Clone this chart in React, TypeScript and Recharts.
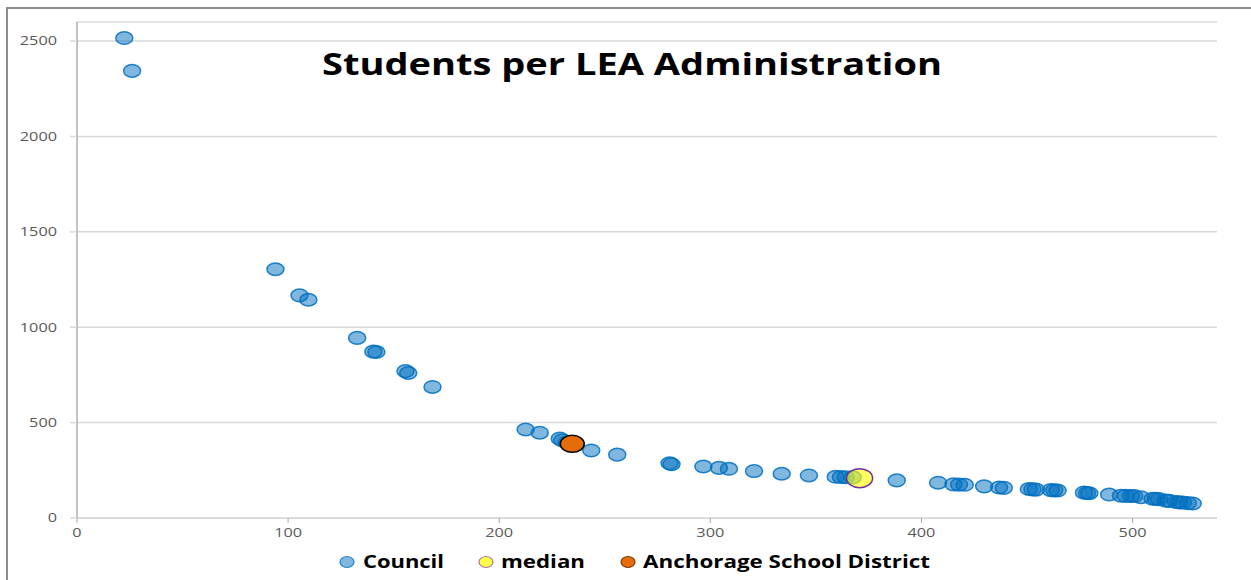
import React from 'react';
import { ScatterChart, Scatter, XAxis, YAxis, CartesianGrid, Legend } from 'recharts';

const councilX = [
  22.4, 26.1, 94.0, 105.4, 109.6, 132.7, 140.4, 141.8, 155.6, 156.9, 168.4,
  212.5, 219.2, 228.7, 229.9, 232.0, 243.6, 255.9, 280.7, 281.6, 296.7, 304.1,
  308.8, 320.7, 333.8, 346.7, 359.4, 361.8, 364.1, 367.4, 388.3, 407.9, 415.2,
  417.8, 420.5, 429.7, 436.8, 439.0, 450.9, 452.6, 454.2, 461.3, 462.9, 464.5,
  477.0, 478.4, 479.5, 488.9, 494.5, 496.8, 499.2, 500.8, 504.0, 509.5, 511.1,
  512.5, 515.8, 517.4, 520.6, 522.0, 523.8, 526.2, 528.5,
];
const councilY = [
  2516, 2344, 1304, 1167, 1144, 944, 872, 870, 770, 760, 687,
  464, 447, 416, 407, 396, 354, 332, 287, 282, 270, 263,
  258, 246, 232, 223, 216, 215, 214, 213, 197, 185, 176,
  175, 174, 166, 160, 158, 152, 150, 149, 146, 145, 144,
  133, 131, 130, 123, 117, 116, 115, 115, 109, 101, 100,
  99, 91, 90, 84, 82, 81, 78, 76,
];
const medianPoint = [{ x: 370.7, y: 209 }];
const anchoragePoint = [{ x: 234.6, y: 389 }];

const xTicks = [0, 100, 200, 300, 400, 500];
const yTicks = [0, 500, 1000, 1500, 2000, 2500];

const councilData = councilX.map((x, i) => ({ x, y: councilY[i] }));

const FONT = '"Open Sans", "DejaVu Sans", sans-serif';

const councilShape = (props: any) => (
  <ellipse cx={props.cx} cy={props.cy} rx={8.5} ry={6.3}
    fill="rgba(0,112,192,0.5)" stroke="rgba(0,112,192,0.85)" strokeWidth={1.5} />
);
const medianShape = (props: any) => (
  <ellipse cx={props.cx} cy={props.cy} rx={13} ry={9.5}
    fill="rgba(255,255,0,0.62)" stroke="#7030A0" strokeWidth={1.5} />
);
const anchorageShape = (props: any) => (
  <ellipse cx={props.cx} cy={props.cy} rx={12} ry={8.5}
    fill="#E46C0A" stroke="#000" strokeWidth={1.5} />
);

const AxisTick = (props: any) => {
  const { x, y, payload, textAnchor, isY } = props;
  const label = String(payload.value);
  return (
    <text x={x} y={y} dy={isY ? '0.35em' : '0.71em'} textAnchor={textAnchor}
      fontFamily={FONT} fontSize={12.5} fill="#595959"
      textLength={label.length * 9.3} lengthAdjust="spacingAndGlyphs">
      {label}
    </text>
  );
};

const legendItems = [
  { name: 'Council', mx: 347, tx: 363, w: 81, fill: 'rgba(0,112,192,0.5)', stroke: 'rgba(0,112,192,0.85)' },
  { name: 'median', mx: 486, tx: 501, w: 84, fill: 'rgba(255,255,0,0.72)', stroke: '#B070B0' },
  { name: 'Anchorage School District', mx: 628, tx: 643, w: 287, fill: '#E46C0A', stroke: '#7a3a05' },
];

const ChartLegend = () => (
  <svg width={1251} height={30} style={{ display: 'block' }}>
    {legendItems.map((it) => (
      <g key={it.name}>
        <ellipse cx={it.mx} cy={14} rx={7} ry={5.5} fill={it.fill} stroke={it.stroke} strokeWidth={1.2} />
        <text x={it.tx} y={20} fontFamily={FONT} fontWeight="bold" fontSize={18} fill="#000"
          textLength={it.w} lengthAdjust="spacingAndGlyphs">
          {it.name}
        </text>
      </g>
    ))}
  </svg>
);

export default function App() {
  return (
    <div style={{ position: 'absolute', left: 0, top: 0, width: 1251, height: 580, background: '#fff', overflow: 'hidden' }}>
      <div style={{
        position: 'absolute', left: 6, top: 7, width: 1251, height: 580,
        borderLeft: '2px solid #8c8c8c', borderTop: '2px solid #8c8c8c', boxSizing: 'border-box',
      }} />
      <ScatterChart width={1251} height={580} margin={{ top: 22, right: 34, bottom: 0, left: 0 }}>
        <CartesianGrid horizontal vertical={false} stroke="#d9d9d9" strokeWidth={1.5} />
        <XAxis type="number" dataKey="x" domain={[0, 540]} ticks={xTicks} height={62}
          axisLine={{ stroke: '#d9d9d9', strokeWidth: 1.5 }} tickLine={{ stroke: '#a6a6a6' }}
          tickSize={5} tickMargin={5} tick={<AxisTick />} />
        <YAxis type="number" dataKey="y" domain={[0, 2600]} ticks={yTicks} width={77}
          axisLine={{ stroke: '#868686' }} tickLine={{ stroke: '#d9d9d9', strokeWidth: 1.5 }}
          tickSize={7} tickMargin={13} tick={<AxisTick isY />} />
        <Legend verticalAlign="middle" content={<ChartLegend />}
          wrapperStyle={{ top: 548, left: 0, width: 1251 }} />
        <Scatter name="Council" data={councilData} shape={councilShape} isAnimationActive={false} />
        <Scatter name="median" data={medianPoint} shape={medianShape} isAnimationActive={false} />
        <Scatter name="Anchorage School District" data={anchoragePoint} shape={anchorageShape} isAnimationActive={false} />
      </ScatterChart>
      <svg width={1251} height={100} style={{ position: 'absolute', left: 0, top: 0, pointerEvents: 'none' }}>
        <text x={322} y={75} fontFamily={FONT} fontWeight="bold" fontSize={31} fill="#000"
          textLength={620} lengthAdjust="spacingAndGlyphs">
          Students per LEA Administration
        </text>
      </svg>
    </div>
  );
}
